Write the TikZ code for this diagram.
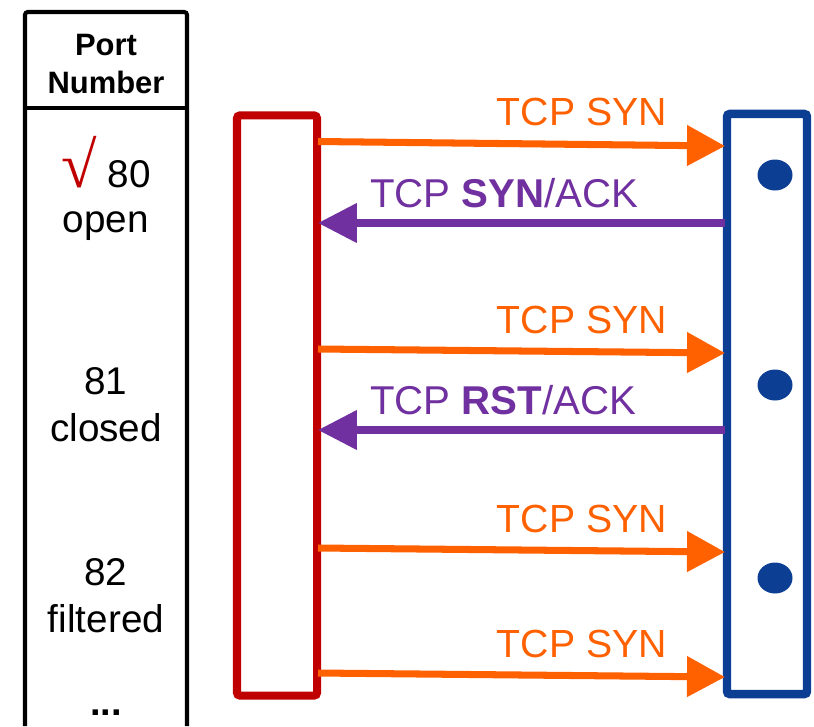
\documentclass[tikz,border=0pt]{standalone}
\usepackage{fontspec}
\setmainfont{Liberation Sans}
\newfontfamily\radicalfont{Liberation Serif}
\usetikzlibrary{arrows.meta}

\definecolor{scanred}{RGB}{192,0,0}
\definecolor{synorange}{RGB}{255,96,0}
\definecolor{ackpurple}{RGB}{112,48,160}
\definecolor{hostblue}{RGB}{12,62,148}

\begin{document}
\begin{tikzpicture}
  [
    x = 0.025cm, y = -0.025cm,
    every node/.style = {inner sep=0pt, outer sep=0pt},
    porthead/.style = {font=\fontsize{22}{26}\selectfont\bfseries, anchor=base},
    portcell/.style = {font=\fontsize{27.5}{32}\selectfont, anchor=base},
    pktsyn/.style = {font=\fontsize{27.9}{33}\selectfont, text=synorange, anchor=base east},
    pktack/.style = {font=\fontsize{28.6}{33}\selectfont, text=ackpurple, anchor=base west},
    syn/.style = {draw=synorange, line width=5pt, -{Triangle[length=0.95cm, width=0.98cm]}},
    ack/.style = {draw=ackpurple, line width=5pt, -{Triangle[length=0.97cm, width=0.95cm]}},
    hostbox/.style = {draw, line width=6pt, rounded corners=2pt, minimum width=2cm, minimum height=14.5cm}
  ]
  \useasboundingbox (0,0) rectangle (814,726);

  % port table
  \draw[line width=2.9pt, rounded corners=2pt] (25,726) -- (25,12) -- (187,12) -- (187,726);
  \draw[line width=2.9pt] (25,108) -- (187,108);
  \node[porthead] (hdr1) at (106,55) {Port};
  \node[porthead] (hdr2) at (106,93) {Number};
  \node[portcell] (p80)  at (106,187) {{\radicalfont\fontsize{46}{46}\selectfont\color{scanred}√} 80};
  \node[portcell] (s80)  at (106,232) {open};
  \node[portcell] (p81)  at (106,394) {81};
  \node[portcell] (s81)  at (106,441) {closed};
  \node[portcell] (p82)  at (106,585) {82};
  \node[portcell] (s82)  at (106,632) {filtered};
  \node[portcell, font=\fontsize{27}{32}\selectfont\bfseries] (more) at (106,715) {...};

  % scanner and target
  \node[hostbox, draw=scanred, line width=5.7pt] (scanner) at (277,405.5) {};
  \node[hostbox, draw=hostblue] (target) at (767,404) {};
  \foreach \y [count=\i] in {175,385,578}
    \fill[hostblue] (775,\y) ellipse [x radius=17.5, y radius=15.5];

  % probes
  \coordinate (s1) at (318,141.5); \coordinate (t1) at (725,146);
  \coordinate (s2) at (318,223);   \coordinate (t2) at (725,223);
  \coordinate (s3) at (318,349);   \coordinate (t3) at (725,353);
  \coordinate (s4) at (318,430);   \coordinate (t4) at (725,430);
  \coordinate (s5) at (318,548);   \coordinate (t5) at (725,552);
  \coordinate (s6) at (318,673);   \coordinate (t6) at (725,677);
  \draw[syn] (s1) -- (t1);
  \draw[ack] (t2) -- (s2);
  \draw[syn] (s3) -- (t3);
  \draw[ack] (t4) -- (s4);
  \draw[syn] (s5) -- (t5);
  \draw[syn] (s6) -- (t6);
  \node[pktsyn] (l1) at (667,125) {TCP SYN};
  \node[pktack] (l2) at (370,207) {TCP \textbf{SYN}/ACK};
  \node[pktsyn] (l3) at (667,333) {TCP SYN};
  \node[pktack] (l4) at (370,414) {TCP \textbf{RST}/ACK};
  \node[pktsyn] (l5) at (667,532) {TCP SYN};
  \node[pktsyn] (l6) at (667,657) {TCP SYN};
\end{tikzpicture}
\end{document}
